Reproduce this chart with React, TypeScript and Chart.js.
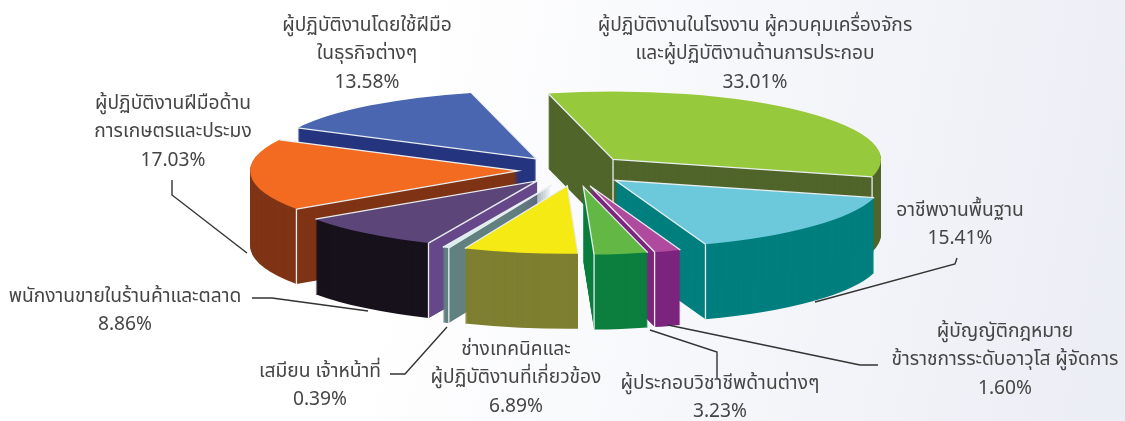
import React, { useEffect, useRef } from "react";
import { Chart, registerables } from "chart.js";

Chart.register(...registerables);

const categories: string[][] = [
  ["ผู้ปฏิบัติงานในโรงงาน ผู้ควบคุมเครื่องจักร", "และผู้ปฏิบัติงานด้านการประกอบ"],
  ["อาชีพงานพื้นฐาน"],
  ["ผู้บัญญัติกฎหมาย", "ข้าราชการระดับอาวุโส ผู้จัดการ"],
  ["ผู้ประกอบวิชาชีพด้านต่างๆ"],
  ["ช่างเทคนิคและ", "ผู้ปฏิบัติงานที่เกี่ยวข้อง"],
  ["เสมียน เจ้าหน้าที่"],
  ["พนักงานขายในร้านค้าและตลาด"],
  ["ผู้ปฏิบัติงานฝีมือด้าน", "การเกษตรและประมง"],
  ["ผู้ปฏิบัติงานโดยใช้ฝีมือ", "ในธุรกิจต่างๆ"],
];
const shares = [33.01, 15.41, 1.6, 3.23, 6.89, 0.39, 8.86, 17.03, 13.58];

const topColors = ["#97c93c", "#6cc9dc", "#b04a9f", "#63b845", "#f6ea14", "#d8eef0", "#5c4578", "#f36a21", "#4a66b0"];
const wallColors = ["#50652a", "#007f7f", "#7c247e", "#0c7f3e", "#7f7f31", "#628080", "#18121c", "#7f3415", "#25357f"];
const radialWallColors: (string | null)[] = [null, null, null, null, null, null, "#66488a", null, null];
const explode = [59, 60, 66, 66, 55, 65, 56, 53, 56];
const nudgeX = [0, 0, 0, 3, 6, 6, 2, 0, 0];
const nudgeY = [0, 0, 0, 0, 2, 0, 0, 0, 0];
const cornerLines: string[][] = [["apex", "end"], ["end"], ["end"], ["end"], [], ["start"], ["start"], ["start"], []];
const drawOrder = [0, 8, 7, 1, 6, 2, 3, 5, 4];

const labelCenters = [
  [755, 27], [960, 212], [1005, 333], [720, 385], [516, 351], [320, 373], [125, 298], [173, 105], [367, 27],
];
const leaders: number[][][] = [
  [[957, 258], [955, 264], [815, 302]],
  [[878, 365], [860, 365], [668, 325]],
  [[717, 378], [717, 352], [650, 330]],
  [[390, 374], [405, 374], [447, 327]],
  [[252, 298], [272, 298], [368, 311]],
  [[172, 180], [172, 195], [247, 253]],
];

const CX = 571, CY = 170, K = 68 / 268, DEPTH = 75, RADIUS = 268, LINE = 28.5;
const FONT = '19.2px "Noto Sans Thai", "Noto Sans", Tahoma, sans-serif';

const pie3d = {
  id: "pie3d",
  beforeDatasetDraw(chart: any) {
    const ctx: CanvasRenderingContext2D = chart.ctx;
    const arcs = chart.getDatasetMeta(0).data;
    drawOrder.forEach((i) => {
      const a = arcs[i];
      const mid = (a.startAngle + a.endAngle) / 2;
      const ox = Math.cos(mid) * explode[i] + nudgeX[i];
      const oy = Math.sin(mid) * explode[i];
      const baseY = CY + nudgeY[i];
      const pt = (ang: number | null, d = 0): [number, number] => {
        const r = ang === null ? 0 : a.outerRadius;
        const t = ang === null ? 0 : ang;
        return [CX + ox + Math.cos(t) * r, baseY + K * (oy + Math.sin(t) * r) + d];
      };
      const paint = (d: number) => {
        ctx.save();
        ctx.translate(CX + ox, baseY + K * oy + d);
        ctx.scale(1, K);
        ctx.translate(-a.x, -a.y);
        a.draw(ctx);
        ctx.restore();
      };
      const original = a.options;
      a.options = { ...original, backgroundColor: wallColors[i], borderWidth: 0 };
      for (let d = DEPTH; d > 0; d -= 1) paint(d);
      a.options = original;
      const rw = radialWallColors[i];
      if (rw) {
        const p1 = pt(null), p2 = pt(a.startAngle), p3 = pt(a.startAngle, DEPTH), p4 = pt(null, DEPTH);
        ctx.fillStyle = rw;
        ctx.beginPath();
        ctx.moveTo(p1[0], p1[1]); ctx.lineTo(p2[0], p2[1]); ctx.lineTo(p3[0], p3[1]); ctx.lineTo(p4[0], p4[1]);
        ctx.closePath();
        ctx.fill();
      }
      paint(0);
      ctx.strokeStyle = "#e9eef0";
      ctx.lineWidth = 1.3;
      const apex = pt(null), s = pt(a.startAngle), e = pt(a.endAngle);
      ctx.beginPath();
      ctx.moveTo(s[0], s[1]); ctx.lineTo(apex[0], apex[1]); ctx.lineTo(e[0], e[1]);
      ctx.stroke();
      cornerLines[i].forEach((c) => {
        const ang = c === "apex" ? null : c === "start" ? a.startAngle : a.endAngle;
        const t0 = pt(ang), t1 = pt(ang, DEPTH);
        ctx.beginPath();
        ctx.moveTo(t0[0], t0[1]); ctx.lineTo(t1[0], t1[1]);
        ctx.stroke();
      });
    });
    return false;
  },
  afterDraw(chart: any) {
    const ctx: CanvasRenderingContext2D = chart.ctx;
    ctx.save();
    ctx.strokeStyle = "#333333";
    ctx.lineWidth = 1.4;
    leaders.forEach((l) => {
      ctx.beginPath();
      l.forEach((p, j) => (j ? ctx.lineTo(p[0], p[1]) : ctx.moveTo(p[0], p[1])));
      ctx.stroke();
    });
    ctx.fillStyle = "#454545";
    ctx.font = FONT;
    ctx.textAlign = "center";
    ctx.textBaseline = "middle";
    categories.forEach((lines, i) => {
      const [x, y] = labelCenters[i];
      lines.forEach((t, j) => ctx.fillText(t, x, y + j * LINE));
      ctx.fillText(shares[i].toFixed(2) + "%", x, y + lines.length * LINE);
    });
    ctx.restore();
  },
};

export default function App() {
  const ref = useRef<HTMLCanvasElement>(null);
  useEffect(() => {
    const chart = new Chart(ref.current as HTMLCanvasElement, {
      type: "pie",
      data: {
        labels: categories.map((c) => c.join(" ")),
        datasets: [{ data: shares, backgroundColor: topColors, borderWidth: 0 }],
      },
      options: {
        responsive: false,
        animation: false,
        events: [],
        rotation: -14,
        radius: RADIUS,
        plugins: { legend: { display: false }, tooltip: { enabled: false } },
      } as any,
      plugins: [pie3d as any],
    });
    return () => chart.destroy();
  }, []);
  return (
    <div
      style={{
        position: "fixed",
        left: 0,
        top: 0,
        width: 1125,
        height: 421,
        background: "linear-gradient(100deg, #ffffff 35%, #ebedf5 100%)",
      }}
    >
      <canvas ref={ref} width={1125} height={421} style={{ display: "block" }} />
    </div>
  );
}
